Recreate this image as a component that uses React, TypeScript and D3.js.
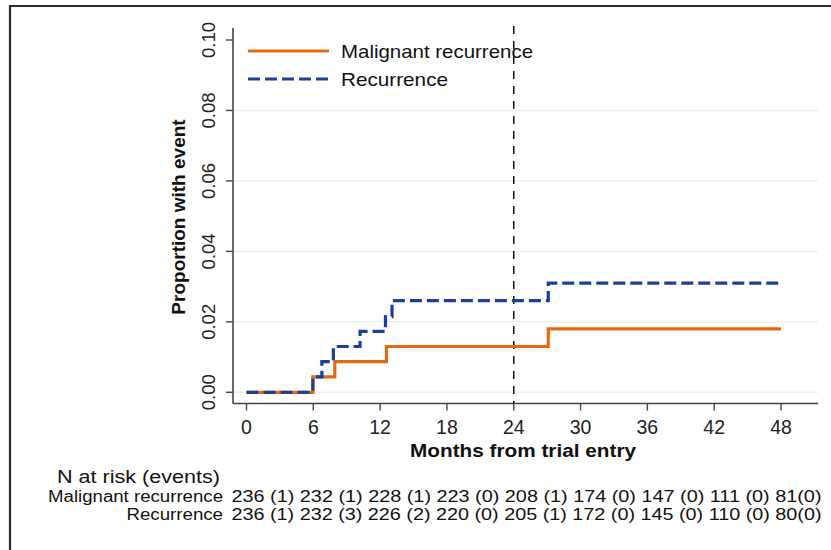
import * as d3 from 'd3';
import React, { useEffect, useRef } from 'react';

// cumulative incidence steps (months, proportion)
const malignantTimes = [0, 5.96, 7.93, 12.57, 27.1, 48];
const malignantValues = [0, 0.0044, 0.0087, 0.013, 0.018, 0.018];
const recurrenceTimes = [0, 5.96, 6.77, 7.8, 10.2, 12.48, 13.07, 27.1, 48];
const recurrenceValues = [0, 0.0044, 0.0087, 0.013, 0.0173, 0.0215, 0.026, 0.031, 0.031];

const xTicks = [0, 6, 12, 18, 24, 30, 36, 42, 48];
const yTicks = [0, 0.02, 0.04, 0.06, 0.08, 0.1];
const gridTicks = [0, 0.02, 0.04, 0.06, 0.08];
const landmark = 24;

const seriesNames = ['Malignant recurrence', 'Recurrence'];
const malignantAtRisk = [236, 232, 228, 223, 208, 174, 147, 111, 81];
const malignantEvents = [1, 1, 1, 0, 1, 0, 0, 0, 0];
const recurrenceAtRisk = [236, 232, 226, 220, 205, 172, 145, 110, 80];
const recurrenceEvents = [1, 3, 2, 0, 1, 0, 0, 0, 0];

const ORANGE = '#e8680f';
const BLUE = '#1c3f9c';
const FONT = '"Liberation Sans", Arial, sans-serif';

const riskRow = (risk: number[], events: number[]) =>
  risk.map((r, i) => (i === risk.length - 1 ? ` ${r}(${events[i]})` : `${r} (${events[i]})`)).join(' ');

const App = () => {
  const ref = useRef<SVGSVGElement>(null);

  useEffect(() => {
    const svg = d3.select(ref.current);
    svg.selectAll('*').remove();

    const x = d3.scaleLinear().domain([0, 48]).range([246.5, 781]);
    const y = d3.scaleLinear().domain([0, 0.1]).range([392.3, 40]);
    const axisLeft = 233;
    const axisBottom = 403.5;
    const axisRight = 818;
    const axisTop = 28;

    // outer frame
    svg.append('path')
      .attr('d', 'M10,551 L10,6 L832,6')
      .attr('fill', 'none')
      .attr('stroke', '#2a2a2a')
      .attr('stroke-width', 2.2);

    // light gridlines
    svg.append('g')
      .selectAll('line')
      .data(gridTicks)
      .join('line')
      .attr('x1', axisLeft)
      .attr('x2', axisRight)
      .attr('y1', (d) => y(d))
      .attr('y2', (d) => y(d))
      .attr('stroke', '#eaf2f1')
      .attr('stroke-width', 1.5);

    // axes
    svg.append('line')
      .attr('x1', axisLeft).attr('x2', axisLeft)
      .attr('y1', axisTop).attr('y2', axisBottom)
      .attr('stroke', '#444').attr('stroke-width', 1.6);
    svg.append('line')
      .attr('x1', axisLeft).attr('x2', axisRight)
      .attr('y1', axisBottom).attr('y2', axisBottom)
      .attr('stroke', '#444').attr('stroke-width', 1.6);

    const yt = svg.append('g');
    yt.selectAll('line')
      .data(yTicks)
      .join('line')
      .attr('x1', axisLeft - 7).attr('x2', axisLeft)
      .attr('y1', (d) => y(d)).attr('y2', (d) => y(d))
      .attr('stroke', '#444').attr('stroke-width', 1.4);
    yt.selectAll('text')
      .data(yTicks)
      .join('text')
      .attr('transform', (d) => `translate(215, ${y(d)}) rotate(-90)`)
      .attr('text-anchor', 'middle')
      .attr('font-family', FONT)
      .attr('font-size', 18.5)
      .attr('fill', '#222')
      .text((d) => d3.format('.2f')(d));

    const xt = svg.append('g');
    xt.selectAll('line')
      .data(xTicks)
      .join('line')
      .attr('x1', (d) => x(d)).attr('x2', (d) => x(d))
      .attr('y1', axisBottom).attr('y2', axisBottom + 7)
      .attr('stroke', '#444').attr('stroke-width', 1.4);
    xt.selectAll('text')
      .data(xTicks)
      .join('text')
      .attr('x', (d) => x(d))
      .attr('y', 434)
      .attr('text-anchor', 'middle')
      .attr('font-family', FONT)
      .attr('font-size', 19.5)
      .attr('fill', '#222')
      .text((d) => d);

    // axis titles
    svg.append('text')
      .attr('transform', 'translate(185, 217) rotate(-90)')
      .attr('text-anchor', 'middle')
      .attr('font-family', FONT)
      .attr('font-weight', 'bold')
      .attr('font-size', 19)
      .attr('fill', '#111')
      .text('Proportion with event');
    svg.append('text')
      .attr('x', 410)
      .attr('y', 457)
      .attr('textLength', 226)
      .attr('lengthAdjust', 'spacingAndGlyphs')
      .attr('font-family', FONT)
      .attr('font-weight', 'bold')
      .attr('font-size', 19)
      .attr('fill', '#111')
      .text('Months from trial entry');

    // landmark line
    svg.append('line')
      .attr('x1', x(landmark)).attr('x2', x(landmark))
      .attr('y1', 26).attr('y2', axisBottom)
      .attr('stroke', '#111')
      .attr('stroke-width', 1.5)
      .attr('stroke-dasharray', '8,7');

    // step curves
    const step = d3.line<[number, number]>()
      .x((d) => x(d[0]))
      .y((d) => y(d[1]))
      .curve(d3.curveStepAfter);
    const malignant = malignantTimes.map((t, i) => [t, malignantValues[i]] as [number, number]);
    const recurrence = recurrenceTimes.map((t, i) => [t, recurrenceValues[i]] as [number, number]);

    svg.append('path')
      .datum(malignant)
      .attr('d', step)
      .attr('fill', 'none')
      .attr('stroke', ORANGE)
      .attr('stroke-width', 3.2);
    svg.append('path')
      .datum(recurrence)
      .attr('d', step)
      .attr('fill', 'none')
      .attr('stroke', BLUE)
      .attr('stroke-width', 3.2)
      .attr('stroke-dasharray', '12,5');

    // legend
    const legend = svg.append('g');
    const legendY = [51, 79];
    legend.selectAll('line')
      .data(seriesNames)
      .join('line')
      .attr('x1', 248).attr('x2', 329)
      .attr('y1', (_, i) => legendY[i]).attr('y2', (_, i) => legendY[i])
      .attr('stroke', (_, i) => (i === 0 ? ORANGE : BLUE))
      .attr('stroke-width', 3.2)
      .attr('stroke-dasharray', (_, i) => (i === 0 ? null : '12,5'));
    legend.selectAll('text')
      .data(seriesNames)
      .join('text')
      .attr('x', 341)
      .attr('y', (_, i) => legendY[i] + 7)
      .attr('textLength', (_, i) => (i === 0 ? 192 : 107))
      .attr('lengthAdjust', 'spacingAndGlyphs')
      .attr('font-family', FONT)
      .attr('font-size', 19)
      .attr('fill', '#111')
      .text((d) => d);

    // number at risk table
    const table = svg.append('g').attr('font-family', FONT).attr('font-size', 16).attr('fill', '#111');
    table.append('text')
      .attr('x', 57)
      .attr('y', 483)
      .attr('font-size', 17.5)
      .attr('textLength', 163)
      .attr('lengthAdjust', 'spacingAndGlyphs')
      .text('N at risk (events)');
    const rows = [
      { name: seriesNames[0], text: riskRow(malignantAtRisk, malignantEvents), y: 502, start: 48 },
      { name: seriesNames[1], text: riskRow(recurrenceAtRisk, recurrenceEvents), y: 520, start: 126.5 },
    ];
    rows.forEach((r) => {
      table.append('text')
        .attr('x', r.start)
        .attr('y', r.y)
        .attr('textLength', 223 - r.start)
        .attr('lengthAdjust', 'spacingAndGlyphs')
        .text(r.name);
      table.append('text')
        .attr('x', 231.5)
        .attr('y', r.y)
        .attr('textLength', 590)
        .attr('lengthAdjust', 'spacingAndGlyphs')
        .text(r.text);
    });
  }, []);

  return (
    <svg
      ref={ref}
      width={831}
      height={550}
      style={{ position: 'absolute', left: 0, top: 0, background: '#fff' }}
    />
  );
};

export default App;
